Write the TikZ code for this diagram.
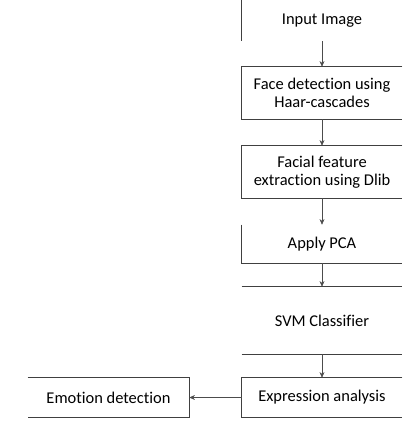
\documentclass[tikz,border=0pt]{standalone}
\usepackage{fontspec}
\setmainfont{Carlito}[Ligatures=NoCommon]
\usepackage{tikz}
\usetikzlibrary{arrows.meta}
\tikzset{every node/.append style={font=\fontsize{11.7}{13}\selectfont}}

\begin{document}
\begin{tikzpicture}[>={Stealth[length=4pt,width=3.5pt]}, x=0.025cm, y=-0.025cm,
    stage/.style={minimum width=4cm, align=center, inner sep=0pt},
    edge/.style={draw=black!75, line width=0.6pt},
    link/.style={->, draw=black!70, line width=0.4pt}]
    \useasboundingbox (0,0) rectangle (411,423);
    % processing column
    \node[stage, minimum height=1.025cm] (inp) at (322,20.5) {Input Image};
    \node[stage, minimum height=1.3cm] (face) at (322,93) {Face detection using\\Haar-cascades};
    \node[stage, minimum height=1.3cm] (facial) at (322,172) {Facial feature\\extraction using Dlib};
    \node[stage, minimum height=0.95cm] (pca) at (322,244) {Apply PCA};
    \node[stage, minimum height=1.675cm] (svm) at (322,320.5) {SVM Classifier};
    \node[stage, minimum height=0.975cm] (expr) at (322,397.5) {Expression analysis};
    % output
    \node[stage, minimum width=4.025cm, minimum height=0.975cm] (emo) at (108.5,397.5) {Emotion detection};
    % visible box edges
    \draw[edge] (inp.north west) -- (inp.south west);
    \foreach \b in {face, facial, expr}
        \draw[edge] (\b.north east) -- (\b.north west) -- (\b.south west) -- (\b.south east);
    \draw[edge] (pca.north west) -- (pca.south west) -- (pca.south east);
    \draw[edge] (svm.north west) -- (svm.north east);
    \draw[edge] (svm.south west) -- (svm.south east);
    \draw[edge] (emo.north west) -- (emo.north east) -- (emo.south east) -- (emo.south west);
    % arrows
    \foreach \a/\b in {inp/face, face/facial, facial/pca, pca/svm, svm/expr} \draw[link] (\a) -- (\b);
    \draw[link] (expr) -- (emo);
\end{tikzpicture}
\end{document}
